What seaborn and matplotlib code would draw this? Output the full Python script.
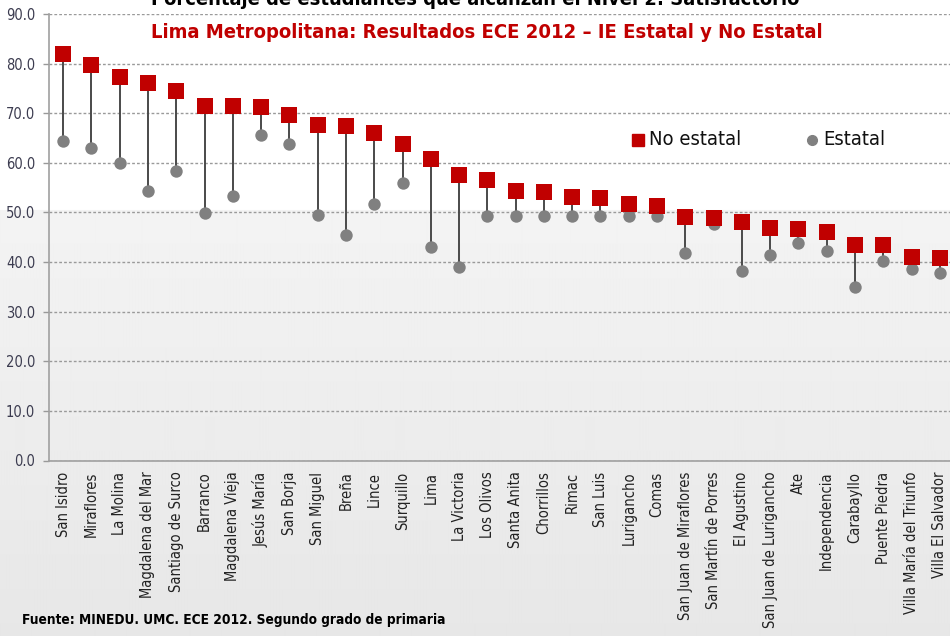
import numpy as np
import pandas as pd
import matplotlib
matplotlib.use("Agg")
import matplotlib.pyplot as plt
import seaborn as sns

distritos = ["San Isidro", "Miraflores", "La Molina", "Magdalena del Mar", "Santiago de Surco",
             "Barranco", "Magdalena Vieja", "Jesús María", "San Borja", "San Miguel", "Breña",
             "Lince", "Surquillo", "Lima", "La Victoria", "Los Olivos", "Santa Anita", "Chorrillos",
             "Rimac", "San Luis", "Lurigancho", "Comas", "San Juan de Miraflores",
             "San Martín de Porres", "El Agustino", "San Juan de Lurigancho", "Ate",
             "Independencia", "Carabayllo", "Puente Piedra", "Villa María del Triunfo",
             "Villa El Salvador"]
no_estatal = [82.0, 79.7, 77.4, 76.0, 74.5, 71.5, 71.5, 71.2, 69.7, 67.7, 67.4, 66.0, 63.7,
              60.7, 57.6, 56.6, 54.4, 54.1, 53.2, 53.0, 51.8, 51.3, 49.1, 48.9, 48.0, 46.9,
              46.6, 46.0, 43.5, 43.5, 41.0, 40.8]
estatal = [64.5, 63.0, 60.0, 54.4, 58.3, 49.9, 53.4, 65.7, 63.7, 49.5, 45.4, 51.7, 56.0,
           43.1, 39.1, 49.3, 49.3, 49.3, 49.3, 49.3, 49.3, 49.3, 41.9, 47.7, 38.1, 41.4,
           43.8, 42.2, 34.9, 40.3, 38.7, 37.7]
y_ticks = [0, 10, 20, 30, 40, 50, 60, 70, 80, 90]

sns.set_theme(style="white")
plt.rcParams['font.family'] = ['DejaVu Sans']
plt.rcParams['font.stretch'] = 'condensed'

df = pd.DataFrame({"distrito": distritos, "No estatal": no_estatal, "Estatal": estatal})
df["x"] = np.arange(len(df))

W, H = 950, 636
fig = plt.figure(figsize=(W / 100, H / 100), dpi=100)

# background: white top, light gray gradient below
bg = fig.add_axes([0, 0, 1, 1], zorder=-10)
rows = np.ones(H)
split = 210
rows[split:] = np.linspace(0.953, 0.905, H - split)
img = np.repeat(rows[:, None], 10, axis=1)
bg.imshow(img, cmap="gray", vmin=0, vmax=1, aspect="auto", extent=[0, 1, 0, 1],
          interpolation="bilinear")
bg.set_axis_off()

ax = fig.add_axes([49 / W, 1 - 460.5 / H, 905 / W, (460.5 - 14) / H])
ax.patch.set_alpha(0)

# connectors
ax.vlines(df["x"], df["Estatal"], df["No estatal"], color="#4a4a4a", lw=1.4, zorder=2)
sns.scatterplot(data=df, x="x", y="Estatal", color="#808080", marker="o", s=80,
                linewidth=0, ax=ax, zorder=3)
sns.scatterplot(data=df, x="x", y="No estatal", color="#C00000", marker="s", s=125,
                linewidth=0, ax=ax, zorder=4)

ax.set_xlim(-0.5, len(df) - 0.5)
ax.set_ylim(0, 90)
ax.set_yticks(y_ticks)
ax.set_yticklabels([f"{v:.1f}" for v in y_ticks], fontsize=10.5, color="#3c3c50")
ax.yaxis.grid(True, linestyle=(0, (2, 1.5)), color="#9a9a9a", lw=1.0)
ax.set_axisbelow(True)
ax.set_xticks(df["x"])
ax.set_xticklabels(distritos, rotation=90, fontsize=10.5, color="#222222", va="top")
ax.set_xticks(np.arange(-0.5, len(df), 1), minor=True)
ax.tick_params(axis="x", which="major", length=0, pad=8)
ax.tick_params(axis="x", which="minor", length=4, color="#999999", width=1, direction="out")
ax.tick_params(axis="y", length=4, color="#999999", width=1, direction="out", pad=6, left=True)
ax.set_xlabel("")
ax.set_ylabel("")
for s in ["top", "right"]:
    ax.spines[s].set_visible(False)
ax.spines["left"].set_color("#a0a0a0")
ax.spines["left"].set_linewidth(1.2)
ax.spines["bottom"].set_color("#a0a0a0")
ax.spines["bottom"].set_linewidth(1.2)

# titles
fig.text(475 / W, 1 + 0.5 / H, "Porcentaje de estudiantes que alcanzan el Nivel 2: Satisfactorio",
         ha="center", va="center", fontsize=14.4, fontweight="bold", color="black")
fig.text(487 / W, 1 - 33 / H, "Lima Metropolitana: Resultados ECE 2012 – IE Estatal y No Estatal",
         ha="center", va="center", fontsize=14.5, fontweight="bold", color="#C00000")

# legend
ly = 1 - 140 / H
fig.lines.append(plt.Line2D([638 / W], [ly], marker="s", color="#C00000", markersize=9,
                            linestyle="none", transform=fig.transFigure))
fig.text(649 / W, ly, "No estatal", ha="left", va="center", fontsize=14.5, color="#111111")
fig.lines.append(plt.Line2D([812 / W], [ly], marker="o", color="#808080", markersize=7,
                            linestyle="none", transform=fig.transFigure))
fig.text(823 / W, ly, "Estatal", ha="left", va="center", fontsize=14.5, color="#111111")

fig.text(22 / W, 1 - 620 / H, "Fuente: MINEDU. UMC. ECE 2012. Segundo grado de primaria",
         ha="left", va="center", fontsize=9.8, fontweight="bold", color="black")

fig.savefig("out.png", dpi=100)
